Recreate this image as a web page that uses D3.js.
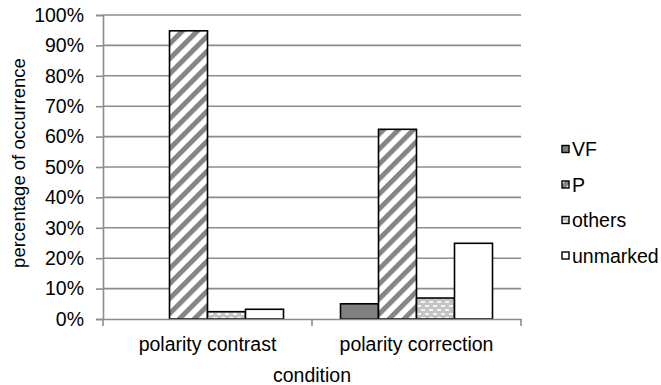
<!DOCTYPE html>
<html>
<head>
<meta charset="utf-8">
<script src="https://cdnjs.cloudflare.com/ajax/libs/d3/7.8.5/d3.min.js"></script>
<style>
  body { margin: 0; background: #fff; }
  text { font-family: "Liberation Sans", Arial, sans-serif; fill: #000; }
</style>
</head>
<body>
<div id="chart"></div>
<script>
var w = 661;
var h = 385;

// data
var categories = ["polarity contrast", "polarity correction"];
var seriesNames = ["VF", "P", "others", "unmarked"];
var vfValues = [0, 0.05];
var pValues = [0.948, 0.624];
var othersValues = [0.024, 0.069];
var unmarkedValues = [0.032, 0.249];
var yTicks = [0, 0.1, 0.2, 0.3, 0.4, 0.5, 0.6, 0.7, 0.8, 0.9, 1.0];

var seriesValues = [vfValues, pValues, othersValues, unmarkedValues];
var fills = ["#808080", "url(#stripes)", "url(#bricks)", "#ffffff"];

var plotLeft = 103, plotRight = 521, plotTop = 15, plotBottom = 319;
var fontSize = "19.5px";

var svg = d3.select("#chart")
    .append("svg")
    .attr("width", w)
    .attr("height", h);

// patterns
var defs = svg.append("defs");
var stripes = defs.append("pattern")
    .attr("id", "stripes")
    .attr("patternUnits", "userSpaceOnUse")
    .attr("width", 10.6)
    .attr("height", 10.6)
    .attr("patternTransform", "rotate(45)");
stripes.append("rect").attr("width", 10.6).attr("height", 10.6).attr("fill", "#fff");
stripes.append("rect").attr("width", 5).attr("height", 10.6).attr("fill", "#858585");

var bricks = defs.append("pattern")
    .attr("id", "bricks")
    .attr("patternUnits", "userSpaceOnUse")
    .attr("width", 8)
    .attr("height", 8);
bricks.append("rect").attr("width", 8).attr("height", 8).attr("fill", "#c4c4c4");
bricks.append("rect").attr("x", 1).attr("y", 1).attr("width", 4).attr("height", 2).attr("fill", "#f4f4f4");
bricks.append("rect").attr("x", 5).attr("y", 5).attr("width", 3).attr("height", 2).attr("fill", "#f4f4f4");
bricks.append("rect").attr("x", 0).attr("y", 5).attr("width", 1).attr("height", 2).attr("fill", "#f4f4f4");

// scales
var xScale = d3.scaleBand()
    .domain(categories)
    .range([plotLeft, plotRight])
    .paddingInner(0)
    .paddingOuter(0);

var xInner = d3.scaleBand()
    .domain(seriesNames)
    .range([0, xScale.bandwidth()])
    .paddingInner(0)
    .paddingOuter(0.75);

var yScale = d3.scaleLinear()
    .domain([0, 1])
    .range([plotBottom, plotTop]);

// gridlines
svg.append("g")
    .selectAll("line")
    .data(yTicks.slice(1))
    .enter()
    .append("line")
    .attr("x1", plotLeft)
    .attr("x2", plotRight)
    .attr("y1", function(d) { return yScale(d); })
    .attr("y2", function(d) { return yScale(d); })
    .attr("stroke", "#8c8c8c")
    .attr("stroke-width", 1.6);

// y axis
var yAxis = d3.axisLeft(yScale)
    .tickValues(yTicks)
    .tickFormat(d3.format(".0%"))
    .tickSize(7)
    .tickPadding(12);
var yg = svg.append("g")
    .attr("transform", "translate(" + plotLeft + ",0)")
    .call(yAxis);
yg.select(".domain").attr("stroke", "#8c8c8c").attr("stroke-width", 1.6);
yg.selectAll(".tick line").attr("stroke", "#8c8c8c").attr("stroke-width", 1.6);
yg.selectAll(".tick text")
    .style("font-size", fontSize)
    .style("font-family", "'Liberation Sans', Arial, sans-serif")
    .attr("fill", "#000");

// bars
var barData = [];
seriesNames.forEach(function(name, s) {
    categories.forEach(function(cat, c) {
        if (seriesValues[s][c] > 0) {
            barData.push({ series: name, s: s, category: cat, value: seriesValues[s][c] });
        }
    });
});

svg.append("g")
    .selectAll("rect")
    .data(barData)
    .enter()
    .append("rect")
    .attr("x", function(d) { return xScale(d.category) + xInner(d.series); })
    .attr("y", function(d) { return yScale(d.value); })
    .attr("width", xInner.bandwidth())
    .attr("height", function(d) { return plotBottom - yScale(d.value); })
    .attr("fill", function(d) { return fills[d.s]; })
    .attr("stroke", "#000")
    .attr("stroke-width", 1.6);

// x axis
var xAxis = d3.axisBottom(xScale).tickSize(0).tickPadding(18);
var xg = svg.append("g")
    .attr("transform", "translate(0," + plotBottom + ")")
    .call(xAxis);
xg.select(".domain").attr("stroke", "#8c8c8c").attr("stroke-width", 1.6);
xg.selectAll(".tick text")
    .style("font-size", fontSize)
    .style("font-family", "'Liberation Sans', Arial, sans-serif")
    .attr("fill", "#000");

// category separator ticks
var sepTicks = [plotLeft].concat(categories.map(function(c) { return xScale(c) + xScale.bandwidth(); }));
svg.append("g")
    .selectAll("line")
    .data(sepTicks)
    .enter()
    .append("line")
    .attr("x1", function(d) { return d; })
    .attr("x2", function(d) { return d; })
    .attr("y1", plotBottom)
    .attr("y2", plotBottom + 7)
    .attr("stroke", "#8c8c8c")
    .attr("stroke-width", 1.6);

// axis labels
svg.append("text")
    .attr("x", (plotLeft + plotRight) / 2)
    .attr("y", 382)
    .attr("text-anchor", "middle")
    .style("font-size", fontSize)
    .text("condition");

svg.append("text")
    .attr("text-anchor", "middle")
    .attr("transform", "rotate(-90)")
    .attr("x", -163)
    .attr("y", 25)
    .style("font-size", "18.5px")
    .text("percentage of occurrence");

// legend
var legend = svg.append("g")
    .selectAll("g")
    .data(seriesNames)
    .enter()
    .append("g")
    .attr("transform", function(d, i) { return "translate(562," + (149 + i * 35.5) + ")"; });

legend.append("rect")
    .attr("x", 0)
    .attr("y", -3.5)
    .attr("width", 7)
    .attr("height", 7)
    .attr("fill", function(d, i) { return fills[i]; })
    .attr("stroke", "#000")
    .attr("stroke-width", 1.4);

legend.append("text")
    .attr("x", 10)
    .attr("y", 7)
    .style("font-size", fontSize)
    .text(function(d) { return d; });
</script>
</body>
</html>
